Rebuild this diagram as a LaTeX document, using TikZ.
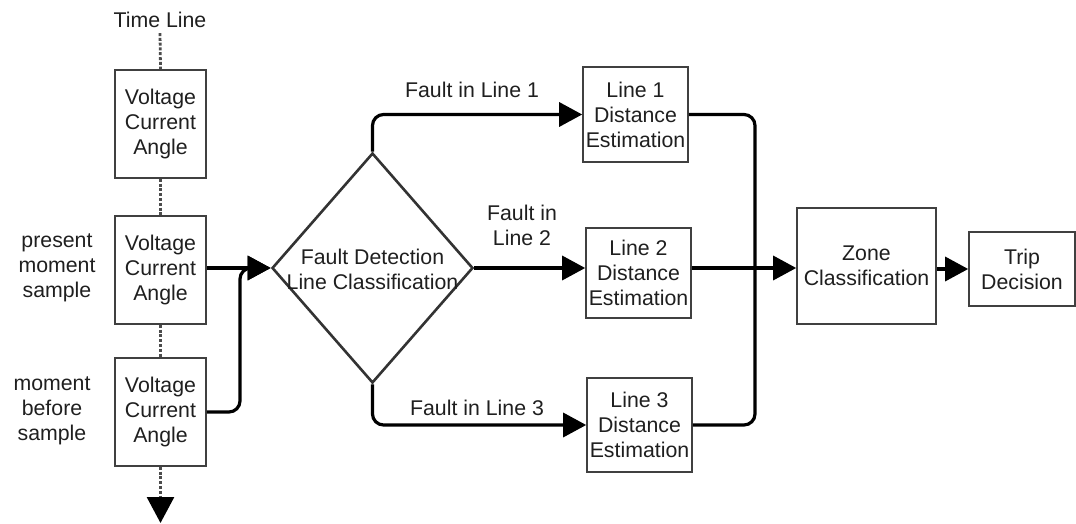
\documentclass[tikz,border=0pt]{standalone}
\usepackage{fontspec}
\setmainfont{Liberation Sans}
\usetikzlibrary{arrows.meta,shapes.geometric,calc}
\begin{document}
\begin{tikzpicture}[x=1pt,y=-1pt,
  every node/.style={font=\fontsize{21.3}{25}\selectfont, text=black!88, align=center, inner sep=0pt},
  box/.style={draw=black!75, line width=1.6pt, fill=white},
  conn/.style={draw=black, line width=3.2pt, rounded corners=11pt, -{Triangle[length=23pt,width=24pt]}},
  plain/.style={draw=black, line width=3.2pt, rounded corners=11pt},
  tline/.style={draw=black!70, line width=2.8pt, dash pattern=on 3pt off 1.8pt}
]
\useasboundingbox (0,0) rectangle (1076,524);
% time line column
\node (tl) at (160,20) {Time Line};
\node[box, minimum width=91pt, minimum height=108pt] (b1) at (160.5,124) {Voltage\\Current\\Angle};
\node[box, minimum width=91pt, minimum height=108pt] (b2) at (160.5,270) {Voltage\\Current\\Angle};
\node[box, minimum width=91pt, minimum height=108pt] (b3) at (160.5,412) {Voltage\\Current\\Angle};
\node (pm) at (57,268) {present\\moment\\sample};
\node (mb) at (52,411) {moment\\before\\sample};
\coordinate (tend) at (160.5,523);
\draw[tline] ([yshift=-5pt]tl.south) -- (b1.north);
\draw[tline] (b1.south) -- (b2.north);
\draw[tline] (b2.south) -- (b3.north);
\draw[tline, -{Triangle[length=26pt,width=27pt,fill=black,color=black]}] (b3.south) -- (tend);
% diamond
\node[draw=black!80, line width=2.6pt, shape=diamond, minimum width=201pt, minimum height=230pt] (d) at (372.5,268) {};
\node (dt) at (372.5,269) {Fault Detection\\Line Classification};
% inputs
\coordinate (j1) at (240,268);
\draw[conn] (b2.east |- d.west) -- (d.west);
\draw[conn] (b3.east) -| (j1) -- (d.west);
% line boxes
\node[box, minimum width=105pt, minimum height=95pt] (l1) at (635.5,114.5) {Line 1\\Distance\\Estimation};
\node[box, minimum width=105pt, minimum height=90pt] (l2) at (638.5,273) {Line 2\\Distance\\Estimation};
\node[box, minimum width=105pt, minimum height=94pt] (l3) at (639.5,425) {Line 3\\Distance\\Estimation};
\draw[conn] (d.north) |- (l1.west);
\draw[conn] (d.east) -- (d.east -| l2.west);
\draw[conn] (d.south) |- (l3.west);
\node (f1) at (472,90) {Fault in Line 1};
\node (f2) at (522,225) {Fault in\\Line 2};
\node (f3) at (477,408) {Fault in Line 3};
% zone and trip
\node[box, minimum width=139pt, minimum height=116pt] (z) at (866.5,266) {Zone\\Classification};
\node[box, minimum width=106pt, minimum height=74pt] (t) at (1022,269) {Trip\\Decision};
\coordinate (j2) at (755,268);
\draw[plain] (l1.east) -| (j2);
\draw[plain] (l3.east) -| (j2);
\draw[conn] (l2.east |- j2) -- (z.west |- j2);
\draw[conn] (z.east |- t.west) -- (t.west);
\end{tikzpicture}
\end{document}
